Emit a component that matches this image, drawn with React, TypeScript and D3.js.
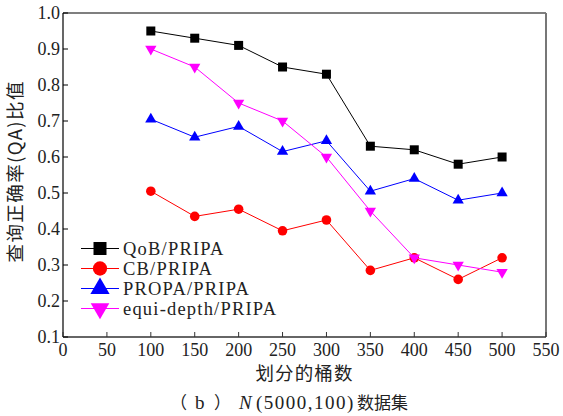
import React, { useEffect, useRef } from 'react'
import * as d3 from 'd3'

const buckets = [100, 150, 200, 250, 300, 350, 400, 450, 500]
const qob = [0.95, 0.93, 0.91, 0.85, 0.83, 0.63, 0.62, 0.58, 0.6]
const cb = [0.505, 0.435, 0.455, 0.395, 0.425, 0.285, 0.32, 0.26, 0.32]
const propa = [0.705, 0.655, 0.685, 0.615, 0.645, 0.505, 0.54, 0.48, 0.5]
const equiDepth = [0.9, 0.85, 0.75, 0.7, 0.6, 0.45, 0.32, 0.3, 0.28]
const seriesNames = ['QoB/PRIPA', 'CB/PRIPA', 'PROPA/PRIPA', 'equi-depth/PRIPA']
const xTicks = [0, 50, 100, 150, 200, 250, 300, 350, 400, 450, 500, 550]
const yTicks = [0.1, 0.2, 0.3, 0.4, 0.5, 0.6, 0.7, 0.8, 0.9, 1.0]

const serif = '"Liberation Serif", "Times New Roman", serif'
const cjk = '"Noto Sans CJK SC", sans-serif'

export default function App() {
  const ref = useRef<SVGSVGElement>(null)

  useEffect(() => {
    const svg = d3.select(ref.current)
    svg.selectAll('*').remove()

    const left = 63, right = 546, top = 13, bottom = 337
    const x = d3.scaleLinear().domain([0, 550]).range([left, right])
    const y = d3.scaleLinear().domain([0.1, 1.0]).range([bottom, top])

    // frame: top/left black, right/bottom gray
    svg.append('line').attr('x1', left).attr('x2', right).attr('y1', top).attr('y2', top)
      .attr('stroke', '#000').attr('stroke-width', 1.2)
    svg.append('line').attr('x1', left).attr('x2', left).attr('y1', top).attr('y2', bottom)
      .attr('stroke', '#000').attr('stroke-width', 1.2)
    svg.append('line').attr('x1', right).attr('x2', right).attr('y1', top).attr('y2', bottom)
      .attr('stroke', '#777').attr('stroke-width', 2)
    svg.append('line').attr('x1', left).attr('x2', right).attr('y1', bottom).attr('y2', bottom)
      .attr('stroke', '#333').attr('stroke-width', 1.5)

    // x ticks (inward)
    const gx = svg.append('g')
    xTicks.forEach(t => {
      gx.append('line').attr('x1', x(t)).attr('x2', x(t)).attr('y1', bottom).attr('y2', bottom - 5)
        .attr('stroke', '#333').attr('stroke-width', 1)
      gx.append('text').attr('x', x(t)).attr('y', bottom + 19).attr('text-anchor', 'middle')
        .attr('font-family', serif).attr('font-size', 18).attr('fill', '#222').text(t)
    })
    // y ticks (inward)
    const gy = svg.append('g')
    yTicks.forEach(t => {
      gy.append('line').attr('x1', left).attr('x2', left + 5).attr('y1', y(t)).attr('y2', y(t))
        .attr('stroke', '#000').attr('stroke-width', 1)
      gy.append('text').attr('x', left - 3).attr('y', y(t)).attr('dy', '0.35em').attr('text-anchor', 'end')
        .attr('font-family', serif).attr('font-size', 18).attr('fill', '#222').text(t.toFixed(1))
    })

    const data = [qob, cb, propa, equiDepth]
    const colors = ['#000000', '#ff0000', '#0000ff', '#ff00ff']
    const symbols = [d3.symbolSquare, d3.symbolCircle, d3.symbolTriangle, d3.symbolTriangle]
    const sizes = [81, 72, 55, 55]
    const legendSizes = [169, 160, 160, 150]

    const line = d3.line<number>().x((_, i) => x(buckets[i])).y(d => y(d))

    data.forEach((vals, k) => {
      svg.append('path').attr('d', line(vals)).attr('fill', 'none')
        .attr('stroke', colors[k]).attr('stroke-width', 1)
      svg.selectAll(null).data(vals).join('path')
        .attr('d', d3.symbol(symbols[k], sizes[k])())
        .attr('transform', (d, i) => `translate(${x(buckets[i])},${y(d)})${k === 3 ? ' rotate(180)' : ''}`)
        .attr('fill', colors[k])
    })

    // legend
    const lg = svg.append('g')
    seriesNames.forEach((name, k) => {
      const ly = 248.5 + k * 20
      lg.append('line').attr('x1', 81).attr('x2', 119).attr('y1', ly).attr('y2', ly)
        .attr('stroke', colors[k]).attr('stroke-width', 1)
      lg.append('path').attr('d', d3.symbol(symbols[k], legendSizes[k])())
        .attr('transform', `translate(100,${ly})${k === 3 ? ' rotate(180)' : ''}`)
        .attr('fill', colors[k])
      lg.append('text').attr('x', 123).attr('y', ly).attr('dy', '0.35em')
        .attr('font-family', serif).attr('font-size', 18.5).attr('letter-spacing', 1.2)
        .attr('fill', '#222').text(name)
    })

    // axis titles
    svg.append('text').attr('transform', `translate(16,172) rotate(-90)`)
      .attr('text-anchor', 'middle').attr('dy', '0.35em')
      .attr('font-family', cjk).attr('font-size', 18.5).attr('fill', '#222')
      .attr('textLength', 181).attr('lengthAdjust', 'spacing')
      .text('查询正确率(QA)比值')
    svg.append('text').attr('x', 304).attr('y', 380).attr('text-anchor', 'middle')
      .attr('font-family', cjk).attr('font-size', 18.5).attr('fill', '#222')
      .attr('textLength', 97).attr('lengthAdjust', 'spacing').text('划分的桶数')

    // caption
    const cap = svg.append('text').attr('y', 409).attr('fill', '#222').attr('font-size', 19)
      .attr('font-family', serif)
    cap.append('tspan').attr('x', 170).attr('font-family', cjk).attr('font-size', 17).text('（')
    cap.append('tspan').attr('x', 195).text('b')
    cap.append('tspan').attr('x', 214).attr('font-family', cjk).attr('font-size', 17).text('）')
    cap.append('tspan').attr('x', 239).attr('font-style', 'italic').text('N')
    cap.append('tspan').attr('x', 256).attr('letter-spacing', 1.5).text('(5000,100)')
    cap.append('tspan').attr('x', 357).attr('font-family', cjk).attr('font-size', 17).text('数据集')
  }, [])

  return (
    <div style={{ position: 'absolute', left: 0, top: 0 }}>
      <svg ref={ref} width={563} height={416} style={{ display: 'block', background: '#fff' }} />
    </div>
  )
}
